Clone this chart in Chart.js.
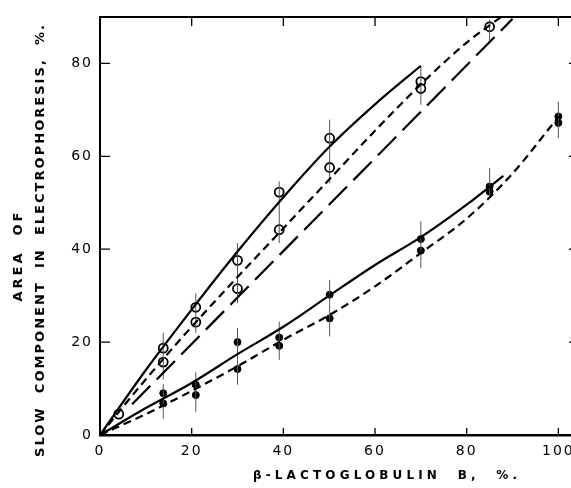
<!DOCTYPE html>
<html><head><meta charset="utf-8">
<script src="https://cdn.jsdelivr.net/npm/chart.js@4"></script>
<style>
html,body{margin:0;padding:0;background:#fff;overflow:hidden;width:571px;height:488px}
#wrap{position:absolute;left:0;top:0;width:590px;height:488px}
</style>
</head><body><div id="wrap"><canvas id="c"></canvas></div>
<script>
// ---- data ----
const xTickValues = [0, 20, 40, 60, 80, 100];
const yTickValues = [0, 20, 40, 60, 80];

// open circles (upper group)
const openX = [4.1, 13.8, 13.8, 20.9, 20.9, 30, 30, 39.1, 39.1, 50.1, 50.1, 70, 70, 85];
const openY = [4.5, 18.7, 15.7, 27.5, 24.3, 37.6, 31.5, 52.3, 44.2, 63.9, 57.6, 76.1, 74.6, 87.9];

// filled circles (lower group)
const filledX = [13.8, 13.8, 20.9, 20.9, 30, 30, 39.1, 39.1, 50.1, 50.1, 70, 70, 85, 85, 100, 100];
const filledY = [9.0, 6.8, 10.8, 8.6, 20.0, 14.2, 21.0, 19.2, 30.2, 25.1, 42.2, 39.7, 53.5, 52.4, 68.6, 67.2];

// vertical range bars
const errX  = [13.8, 13.8, 20.9, 20.9, 30, 30, 39.1, 39.1, 50.1, 50.1, 70, 70, 85, 85, 100];
const errLo = [12, 3.5, 22, 5, 28.4, 10.8, 41.3, 16.2, 54.2, 21.2, 71.1, 35.9, 84.8, 51.7, 63.9];
const errHi = [22, 11, 30.5, 13.5, 41.3, 23, 54.6, 24.4, 67.9, 33.4, 79.4, 46, 89.4, 57.5, 71.8];

// fitted curves
const upperSolidX = [0, 10, 20, 30, 40, 50, 60, 70];
const upperSolidY = [0, 14, 27, 39.5, 51.2, 62, 71.2, 79.5];
const upperShortX = [0, 10, 20, 30, 40, 50, 60, 70, 80, 87.5];
const upperShortY = [0, 12, 23.3, 34, 44.5, 55, 65.5, 75.5, 84.5, 90];
const upperLongX = [7, 90];
const upperLongY = [6.6, 89.6];
const lowerSolidX = [0, 10, 20, 30, 40, 50, 60, 70, 80, 88];
const lowerSolidY = [0, 5.8, 11.2, 17.4, 23.3, 30, 36.6, 42.6, 49.6, 55.8];
const lowerShortX = [0, 10, 20, 30, 40, 50, 60, 70, 80, 90, 100];
const lowerShortY = [0, 4.5, 9.5, 14.8, 20.5, 25.8, 32, 39.2, 46.6, 56.3, 68.5];

const xTitle = "β-LACTOGLOBULIN  B,  %.";
const yTitle1 = "AREA  OF";
const yTitle2 = "SLOW  COMPONENT  IN  ELECTROPHORESIS,  %.";

// ---- helpers ----
const pts = (xs, ys) => xs.map((x, i) => ({x, y: ys[i]}));
const errPts = errX.flatMap((x, i) => [{x, y: errLo[i]}, {x, y: errHi[i]}, {x, y: null}]);

function curve(xs, ys, dash) {
  return {type: 'line', data: pts(xs, ys), showLine: true, borderColor: '#000',
    borderWidth: 2.2, borderDash: dash, pointRadius: 0, cubicInterpolationMode: 'monotone', fill: false};
}

function spacedText(ctx, text, cx, cy, rot, targetW, font) {
  ctx.save();
  ctx.font = font;
  ctx.letterSpacing = '0px';
  const w = ctx.measureText(text).width;
  const n = [...text].length;
  const ls = Math.max(0, (targetW - w) / (n - 1));
  ctx.letterSpacing = ls + 'px';
  ctx.translate(cx, cy);
  ctx.rotate(rot);
  ctx.fillStyle = '#000';
  ctx.textAlign = 'left';
  ctx.textBaseline = 'middle';
  ctx.fillText(text, -targetW / 2, 0);
  ctx.restore();
}

const framePlugin = {
  id: 'frame',
  beforeUpdate(chart) { chart.ctx.letterSpacing = '2px'; },
  beforeDraw(chart) { chart.ctx.letterSpacing = '2px'; },
  afterDraw(chart) {
    const {ctx, chartArea: a, scales: {x, y}} = chart;
    ctx.save();
    ctx.strokeStyle = '#000';
    ctx.lineWidth = 2;
    ctx.beginPath();
    ctx.moveTo(a.left, a.top); ctx.lineTo(a.right, a.top); ctx.lineTo(a.right, a.bottom);
    ctx.stroke();
    ctx.lineWidth = 1.3;
    ctx.beginPath();
    xTickValues.slice(1).forEach(v => {
      const px = x.getPixelForValue(v);
      ctx.moveTo(px, a.bottom); ctx.lineTo(px, a.bottom - 7);
      ctx.moveTo(px, a.top); ctx.lineTo(px, a.top + 9);
    });
    yTickValues.slice(1).forEach(v => {
      const py = y.getPixelForValue(v);
      ctx.moveTo(a.left, py); ctx.lineTo(a.left + 10, py);
      ctx.moveTo(a.right, py); ctx.lineTo(a.right - 10, py);
    });
    ctx.stroke();
    ctx.restore();
    spacedText(ctx, xTitle, 385, 476, 0, 264, '600 12px "DejaVu Sans"');
    spacedText(ctx, yTitle1, 19, 257, -Math.PI / 2, 89, '600 13px "DejaVu Sans"');
    spacedText(ctx, yTitle2, 41, 241, -Math.PI / 2, 432, '600 13px "DejaVu Sans"');
  }
};

new Chart(document.getElementById('c'), {
  type: 'scatter',
  data: {
    datasets: [
      curve(upperSolidX, upperSolidY, []),
      curve(upperShortX, upperShortY, [8, 5]),
      curve(upperLongX, upperLongY, [26, 9]),
      curve(lowerSolidX, lowerSolidY, []),
      curve(lowerShortX, lowerShortY, [8, 5]),
      {type: 'line', data: errPts, showLine: true, spanGaps: false, borderColor: '#555',
        borderWidth: 1, pointRadius: 0, tension: 0},
      {data: pts(openX, openY), pointRadius: 4.5, pointBackgroundColor: '#fff',
        pointBorderColor: '#000', pointBorderWidth: 1.8},
      {data: pts(filledX, filledY), pointRadius: 3.5, pointBackgroundColor: '#000',
        pointBorderColor: '#000', pointBorderWidth: 1}
    ]
  },
  options: {
    responsive: true, maintainAspectRatio: false, animation: false,
    devicePixelRatio: 1,
    layout: {padding: {top: 17, right: 11, left: 0, bottom: 0}},
    plugins: {legend: {display: false}, tooltip: {enabled: false}},
    scales: {
      x: {type: 'linear', min: 0, max: 104.5,
        afterBuildTicks: s => { s.ticks = xTickValues.map(v => ({value: v})); },
        afterFit: s => { s.height = 53; s.paddingRight = 0; s.paddingLeft = 0; },
        grid: {display: true, drawOnChartArea: false, drawTicks: false},
        border: {display: true, color: '#000', width: 2.5},
        ticks: {color: '#000', padding: 8, maxRotation: 0, autoSkip: false,
          font: {family: '"DejaVu Sans"', size: 14}}},
      y: {type: 'linear', min: 0, max: 90,
        afterBuildTicks: s => { s.ticks = yTickValues.map(v => ({value: v})); },
        afterFit: s => { s.width = 100; s.paddingTop = 0; s.paddingBottom = 0; },
        grid: {display: true, drawOnChartArea: false, drawTicks: false},
        border: {display: true, color: '#000', width: 2},
        ticks: {color: '#000', padding: 7, font: {family: '"DejaVu Sans"', size: 14}}}
    }
  },
  plugins: [framePlugin]
});
</script>
</body></html>
